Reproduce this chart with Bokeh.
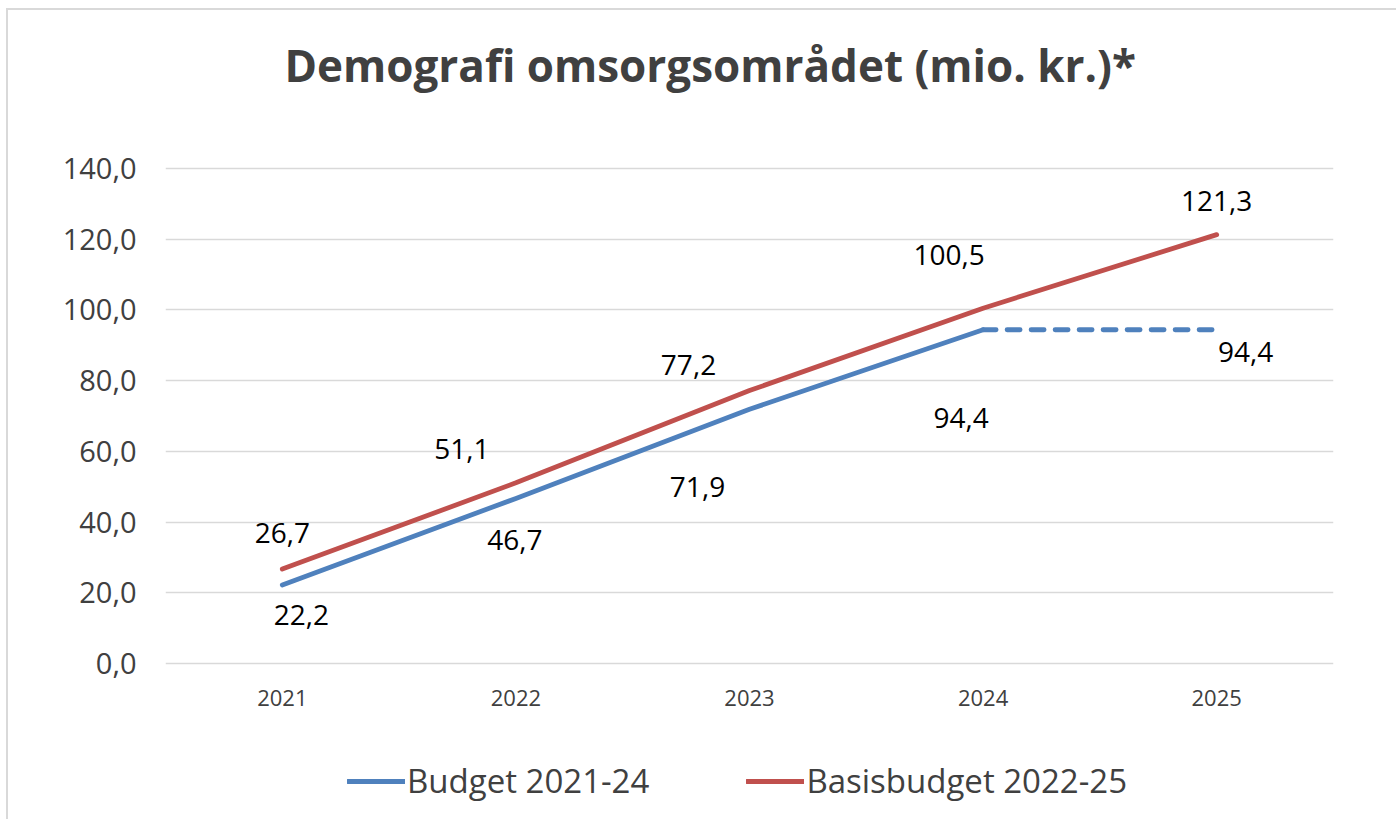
from bokeh.plotting import figure
from bokeh.models import (ColumnDataSource, FactorRange, Range1d, FixedTicker, Legend,
                          LegendItem, Title)
from bokeh.core.properties import value
from bokeh.embed import file_html
from bokeh.resources import INLINE

# ---- data ----
years = ["2021", "2022", "2023", "2024", "2025"]
budget_2021_24 = [22.2, 46.7, 71.9, 94.4]          # solid
budget_2021_24_ext = [94.4, 94.4]                   # dashed 2024->2025
budget_ext_years = ["2024", "2025"]
basis_2022_25 = [26.7, 51.1, 77.2, 100.5, 121.3]
budget_label_values = [22.2, 46.7, 71.9, 94.4, 94.4]
y_ticks = [0, 20, 40, 60, 80, 100, 120, 140]
y_tick_labels = ["0,0", "20,0", "40,0", "60,0", "80,0", "100,0", "120,0", "140,0"]
title_text = "Demografi omsorgsområdet (mio. kr.)*"
series_names = ["Budget 2021-24", "Basisbudget 2022-25"]

# label placement tweaks (screen px, y down)
basis_dx = [0, -54, -61, -34, 0]
basis_dy = [-36, -34, -26, -53, -34]
budget_dx = [19, -1, -52, -22, 29]
budget_dy = [30, 42, 78, 88, 22]

BLUE = "#4F81BD"
RED = "#C0504D"
GRID = "#D9D9D9"
TXT = "#404040"
FONT = "Open Sans"

def fmt(v):
    return f"{v:.1f}".replace(".", ",")

# frame: top at canvas 156, bottom at canvas 810; value 0 at canvas 653, 140 at 158
W, H = 1390, 811
p = figure(width=W, height=H, x_range=FactorRange(*years), y_range=Range1d(-44.4, 140.57),
           output_backend="svg", toolbar_location=None,
           min_border_left=157, min_border_right=65, min_border_top=156, min_border_bottom=1)
p.outline_line_color = None
p.background_fill_color = "white"
p.border_fill_color = "white"
p.styles = {"margin-left": "6px", "margin-top": "8px",
            "border-left": "2px solid #d9d9d9", "border-top": "2px solid #d9d9d9"}

# title
t = Title(text=title_text, align="left", offset=119, text_font=FONT, text_font_size="44px",
          text_font_style="bold", text_color=TXT, standoff=0,
          padding=dict(left=0, right=0, top=20, bottom=72))
p.add_layout(t, "above")

# grid / axes
p.xgrid.grid_line_color = None
p.ygrid.grid_line_color = GRID
p.ygrid.grid_line_width = 1.3
p.yaxis.ticker = FixedTicker(ticks=y_ticks)
p.ygrid.ticker = FixedTicker(ticks=y_ticks)
p.yaxis.major_label_overrides = {t_: l for t_, l in zip(y_ticks, y_tick_labels)}
for ax in (p.xaxis[0], p.yaxis[0]):
    ax.axis_line_color = None
    ax.major_tick_line_color = None
    ax.minor_tick_line_color = None
    ax.major_label_text_font = FONT
    ax.major_label_text_color = TXT
p.yaxis.major_label_text_font_size = "29px"
p.yaxis.major_label_standoff = 23
p.xaxis.major_label_text_font_size = "22px"
p.xaxis.major_label_standoff = 20
p.xaxis.fixed_location = 0

# lines
r_blue = p.line(years[:4], budget_2021_24, line_color=BLUE, line_width=4.8, line_cap="round", line_join="round")
p.line(budget_ext_years, budget_2021_24_ext, line_color=BLUE, line_width=4.8, line_dash="13 11", line_cap="round")
r_red = p.line(years, basis_2022_25, line_color=RED, line_width=4.8, line_cap="round", line_join="round")

# data labels
src_red = ColumnDataSource(dict(x=years, y=basis_2022_25, t=[fmt(v) for v in basis_2022_25],
                                dx=basis_dx, dy=basis_dy))
src_blue = ColumnDataSource(dict(x=years, y=budget_label_values, t=[fmt(v) for v in budget_label_values],
                                 dx=budget_dx, dy=budget_dy))
for src in (src_red, src_blue):
    p.text(x="x", y="y", text="t", x_offset="dx", y_offset="dy", source=src,
           text_font=value(FONT), text_font_size="28px", text_color="black",
           text_align="center", text_baseline="middle")

# legend
legend = Legend(items=[LegendItem(label=series_names[0], renderers=[r_blue]),
                       LegendItem(label=series_names[1], renderers=[r_red])],
                orientation="horizontal", location=(182, 17),
                label_text_font=FONT, label_text_font_size="33px", label_text_color=TXT,
                glyph_width=58, glyph_height=40, label_height=40, label_standoff=2, spacing=97,
                padding=0, margin=0, border_line_color=None, background_fill_alpha=0)
p.add_layout(legend, "center")

open("out.html", "w").write(file_html(p, INLINE))
